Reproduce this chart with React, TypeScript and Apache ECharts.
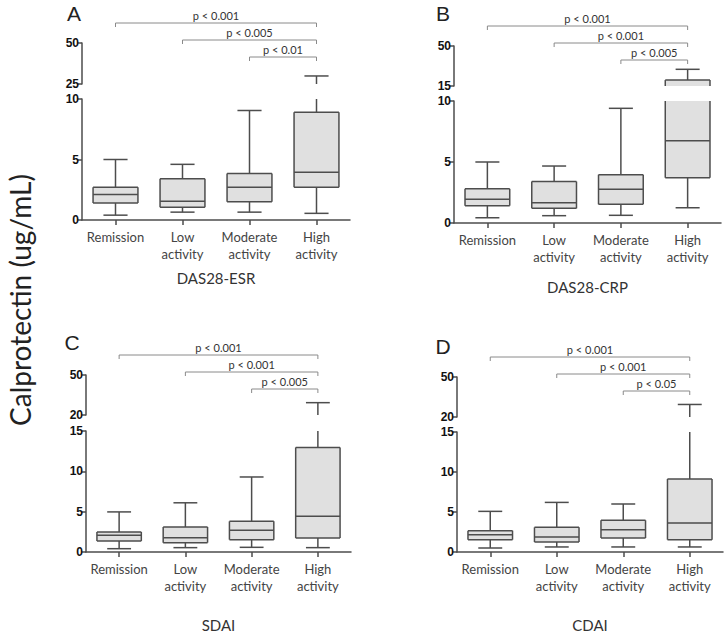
import React, { useEffect, useRef } from "react";
import * as echarts from "echarts";

const categories = ["Remission", "Low\nactivity", "Moderate\nactivity", "High\nactivity"];

// Each row: [min, Q1, median, Q3, max]
const boxesA = [
  [0.4, 1.4, 2.1, 2.7, 5.0],
  [0.65, 1.05, 1.55, 3.4, 4.6],
  [0.65, 1.5, 2.7, 3.85, 9.05],
  [0.55, 2.7, 3.95, 8.9, 29.9],
];
const boxesB = [
  [0.43, 1.42, 1.94, 2.8, 5.0],
  [0.6, 1.2, 1.66, 3.4, 4.67],
  [0.63, 1.53, 2.76, 3.96, 9.4],
  [1.25, 3.71, 6.75, 20.2, 29.6],
];
const boxesC = [
  [0.41, 1.37, 2.07, 2.48, 4.97],
  [0.54, 1.16, 1.78, 3.1, 6.1],
  [0.58, 1.53, 2.69, 3.8, 9.3],
  [0.54, 1.74, 4.43, 12.96, 29.25],
];
const boxesD = [
  [0.5, 1.54, 2.17, 2.67, 5.08],
  [0.63, 1.25, 1.88, 3.08, 6.2],
  [0.63, 1.75, 2.79, 3.96, 6.0],
  [0.63, 1.54, 3.63, 9.13, 29.4],
];

// comparisons: [group a, group b]
const comparisons = [
  [0, 3],
  [1, 3],
  [2, 3],
];
const pA = ["p < 0.001", "p < 0.005", "p < 0.01"];
const pB = ["p < 0.001", "p < 0.001", "p < 0.005"];
const pC = ["p < 0.001", "p < 0.001", "p < 0.005"];
const pD = ["p < 0.001", "p < 0.001", "p < 0.05"];

// axis segments (broken axis)
const upperRangeA = [25, 50];
const upperRangeB = [15, 50];
const upperRangeC = [20, 50];
const upperRangeD = [20, 50];
const lowerTicksAB = [0, 5, 10];
const lowerTicksCD = [0, 5, 10, 15];

const yTitle = "Calprotectin (ug/mL)";

const LABEL_FONT = "Lato, 'Noto Sans', sans-serif";
const LINE = "#4d4d4d";

const panelDefs = [
  {
    letter: "A", title: "DAS28-ESR", boxes: boxesA, pv: pA, upper: upperRangeA, lowerTicks: lowerTicksAB,
    ug: { left: 82, top: 43, width: 268, height: 41 },
    lg: { left: 82, top: 99, width: 268, height: 121 },
    nameGap: 50, lx: 74, ly: 13,
  },
  {
    letter: "B", title: "DAS28-CRP", boxes: boxesB, pv: pB, upper: upperRangeB, lowerTicks: lowerTicksAB,
    ug: { left: 454, top: 46, width: 267, height: 40 },
    lg: { left: 454, top: 101, width: 267, height: 122 },
    nameGap: 56, lx: 443, ly: 13,
  },
  {
    letter: "C", title: "SDAI", boxes: boxesC, pv: pC, upper: upperRangeC, lowerTicks: lowerTicksCD,
    ug: { left: 86, top: 375, width: 265, height: 40 },
    lg: { left: 86, top: 431, width: 265, height: 121 },
    nameGap: 65, lx: 72, ly: 342,
  },
  {
    letter: "D", title: "CDAI", boxes: boxesD, pv: pD, upper: upperRangeD, lowerTicks: lowerTicksCD,
    ug: { left: 457, top: 377, width: 266, height: 40 },
    lg: { left: 457, top: 432, width: 266, height: 120 },
    nameGap: 65, lx: 443, ly: 346,
  },
];

function boxRender(params: any, api: any) {
  const cs = params.coordSys;
  const top = cs.y;
  const bot = cs.y + cs.height;
  const idx = api.value(0);
  const vals = [1, 2, 3, 4, 5].map((i) => api.value(i));
  const cx = api.coord([idx, vals[0]])[0];
  const y = vals.map((v) => api.coord([idx, v])[1]);
  const band = api.size([1, 0])[0];
  const bw = band * 0.67;
  const cw = band * 0.36;
  const cl = (p: number) => Math.min(bot, Math.max(top, p));
  const inside = (p: number) => p >= top - 0.5 && p <= bot + 0.5;
  const st = { stroke: LINE, lineWidth: 1.5 };
  const ch: any[] = [];
  const vline = (a: number, b: number, x: number) => {
    const ya = cl(a);
    const yb = cl(b);
    if (Math.abs(ya - yb) > 0.5) ch.push({ type: "line", shape: { x1: x, y1: ya, x2: x, y2: yb }, style: st });
  };
  const hline = (yy: number, w: number) => {
    if (inside(yy)) ch.push({ type: "line", shape: { x1: cx - w / 2, y1: yy, x2: cx + w / 2, y2: yy }, style: st });
  };
  vline(y[0], y[1], cx);
  vline(y[3], y[4], cx);
  const bt = cl(y[3]);
  const bb = cl(y[1]);
  if (bb - bt > 0.5) {
    ch.push({ type: "rect", shape: { x: cx - bw / 2, y: bt, width: bw, height: bb - bt }, style: { fill: "#e0e0e0" } });
    vline(bt, bb, cx - bw / 2);
    vline(bt, bb, cx + bw / 2);
  }
  hline(y[1], bw);
  hline(y[3], bw);
  hline(y[2], bw);
  hline(y[0], cw);
  hline(y[4], cw);
  return { type: "group", children: ch };
}

function makeBracketRender(labels: string[]) {
  return (params: any, api: any) => {
    const cs = params.coordSys;
    const a = api.value(0);
    const b = api.value(1);
    const lvl = api.value(2);
    const x1 = api.coord([a, 0])[0];
    const x2 = api.coord([b, 0])[0];
    const yy = cs.y - 20 + lvl * 17;
    return {
      type: "group",
      children: [
        {
          type: "polyline",
          shape: { points: [[x1, yy + 4], [x1, yy], [x2, yy], [x2, yy + 4]] },
          style: { stroke: "#8a8a8a", lineWidth: 1, fill: "none" },
        },
        {
          type: "text",
          style: {
            text: labels[lvl],
            x: (x1 + x2) / 2,
            y: yy - 8,
            fill: "#333",
            font: "11px " + LABEL_FONT,
            align: "center",
            verticalAlign: "middle",
          },
        },
      ],
    };
  };
}

export default function App() {
  const ref = useRef<HTMLDivElement>(null);
  useEffect(() => {
    if (!ref.current) return;
    const chart = echarts.init(ref.current, null, { renderer: "svg" });
    const grid: any[] = [];
    const xAxis: any[] = [];
    const yAxis: any[] = [];
    const series: any[] = [];
    const graphic: any[] = [];

    const yAxisBase = (min: number, max: number, ticks: number[], gi: number) => ({
      type: "value",
      gridIndex: gi,
      min,
      max,
      splitLine: { show: false },
      axisLine: { show: true, lineStyle: { color: LINE, width: 1.5 } },
      axisTick: { show: true, length: 4, lineStyle: { color: LINE, width: 1.5 }, customValues: ticks },
      axisLabel: {
        customValues: ticks,
        margin: 3,
        color: "#111",
        fontWeight: "bold",
        fontSize: 12,
        fontFamily: "'Liberation Sans', Arial, sans-serif",
      },
    });

    panelDefs.forEach((p, pi) => {
      const gu = pi * 2;
      const gl = pi * 2 + 1;
      grid.push({ ...p.ug, containLabel: false });
      grid.push({ ...p.lg, containLabel: false });
      xAxis.push({ type: "category", gridIndex: gu, data: categories, show: false });
      xAxis.push({
        type: "category",
        gridIndex: gl,
        data: categories,
        axisLine: { show: true, lineStyle: { color: LINE, width: 1.5 } },
        axisTick: { show: true, alignWithLabel: true, length: 5, lineStyle: { color: LINE, width: 1.5 } },
        axisLabel: {
          interval: 0,
          margin: 8,
          fontSize: 13,
          lineHeight: 17,
          color: "#444",
          fontFamily: LABEL_FONT,
        },
        name: p.title,
        nameLocation: "middle",
        nameGap: p.nameGap,
        nameTextStyle: { fontSize: 15, color: "#333", fontFamily: LABEL_FONT },
      });
      yAxis.push(yAxisBase(p.upper[0], p.upper[1], p.upper, gu));
      yAxis.push(yAxisBase(p.lowerTicks[0], p.lowerTicks[p.lowerTicks.length - 1], p.lowerTicks, gl));

      const data = p.boxes.map((r, i) => [i, ...r]);
      [gu, gl].forEach((g) => {
        series.push({
          type: "custom",
          xAxisIndex: g,
          yAxisIndex: g,
          renderItem: boxRender,
          encode: { x: 0, y: [1, 2, 3, 4, 5] },
          data,
          silent: true,
        });
      });
      series.push({
        type: "custom",
        xAxisIndex: gu,
        yAxisIndex: gu,
        renderItem: makeBracketRender(p.pv),
        encode: { x: [0, 1], y: 2 },
        data: comparisons.map((c, i) => [c[0], c[1], i]),
        silent: true,
        z: 5,
      });
      graphic.push({
        type: "text",
        x: p.lx,
        y: p.ly,
        style: {
          text: p.letter,
          font: "21px 'Liberation Sans', Arial, sans-serif",
          fill: "#222",
          align: "center",
          verticalAlign: "middle",
          textAlign: "center",
          textVerticalAlign: "middle",
        },
      });
    });

    graphic.push({
      type: "text",
      x: 20,
      y: 300,
      rotation: Math.PI / 2,
      style: {
        text: yTitle,
        font: "28px " + LABEL_FONT,
        fill: "#222",
        align: "center",
        verticalAlign: "middle",
        textAlign: "center",
        textVerticalAlign: "middle",
      },
    });

    chart.setOption({
      animation: false,
      backgroundColor: "#ffffff",
      grid,
      xAxis,
      yAxis,
      series,
      graphic,
    });
    return () => chart.dispose();
  }, []);
  return (
    <div
      ref={ref}
      style={{ position: "absolute", left: 0, top: 0, width: 726, height: 633, background: "#fff" }}
    />
  );
}
